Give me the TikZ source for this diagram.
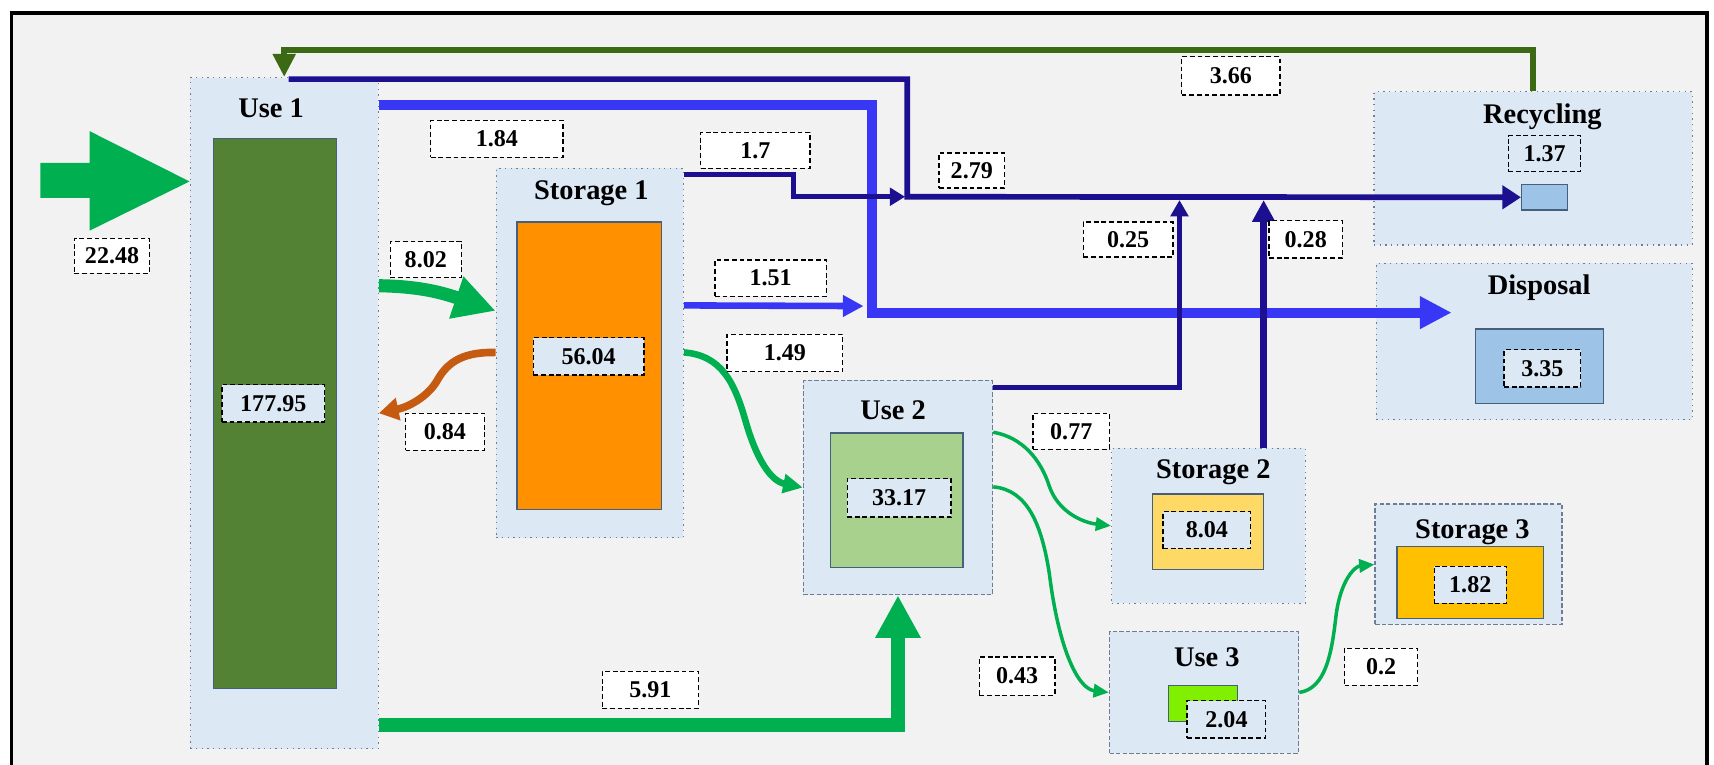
\documentclass[tikz,border=0pt]{standalone}
\usepackage{fontspec}
\setmainfont{Liberation Serif}
\usetikzlibrary{arrows.meta,fit}
\definecolor{bgc}{RGB}{242,242,242}
\definecolor{boxc}{RGB}{221,232,245}
\definecolor{bordc}{RGB}{110,125,150}
\definecolor{innerd}{RGB}{70,95,125}
\definecolor{gdark}{RGB}{84,130,53}
\definecolor{orng}{RGB}{255,145,0}
\definecolor{glight}{RGB}{169,209,142}
\definecolor{ylw}{RGB}{255,217,102}
\definecolor{ylwb}{RGB}{255,192,0}
\definecolor{limec}{RGB}{128,240,0}
\definecolor{lblue}{RGB}{157,195,230}
\definecolor{flowg}{RGB}{0,176,80}
\definecolor{navyc}{RGB}{28,16,145}
\definecolor{bluec}{RGB}{55,55,245}
\definecolor{brownc}{RGB}{197,90,17}
\definecolor{fbc}{RGB}{60,105,20}
\newcommand\labn[7][lab]{%
  \pgfmathsetmacro\lcx{(#3+#5)/2}\pgfmathsetmacro\lcy{(#4+#6)/2}%
  \pgfmathsetmacro\lww{(#5-#3)/2}\pgfmathsetmacro\lhh{(#6-#4)/2}%
  \node[#1, minimum width=\lww pt, minimum height=\lhh pt] (#2) at (\lcx,\lcy) {#7};}
\begin{document}
\begin{tikzpicture}[x=0.5pt,y=-0.5pt,
  box/.style={fill=boxc, draw=bordc, dotted, line width=0.6pt, inner sep=0pt},
  dbox/.style={fill=boxc, draw=bordc, dash pattern=on 2pt off 1pt, line width=0.6pt, inner sep=0pt},
  inr/.style={draw=innerd, line width=0.6pt, inner sep=0pt},
  lab/.style={draw=black, fill=white, dash pattern=on 2.2pt off 1.3pt, line width=0.6pt, inner sep=0pt, font=\bfseries\fontsize{11}{12}\selectfont},
  slab/.style={lab, fill=boxc},
  ttl/.style={font=\bfseries\fontsize{13}{15}\selectfont, inner sep=0pt},
  navyl/.style={draw=navyc, line width=2.6pt},
  bluel/.style={draw=bluec, line width=4.5pt},
  fbl/.style={draw=fbc, line width=2.5pt},
  greenl/.style={draw=flowg},
]
\useasboundingbox (0,0) rectangle (1568,699);
\fill[white] (0,0) rectangle (1568,699);
\fill[bgc] (10.5,12) rectangle (1562,720);
\draw[black, line width=1.8pt] (10.5,12) rectangle (1562,720);

% boxes
\node[box, fit={(174,71)(346,685)}] (use1) {};
\node[inr, fill=gdark, fit={(195,127)(308,630)}] (use1in) {};
\node[box, fit={(454,154)(625,492)}] (st1) {};
\node[inr, fill=orng, fit={(473,203)(605,466)}] (st1in) {};
\node[dbox, fit={(735,348)(908,544)}] (use2) {};
\node[inr, fill=glight, fit={(760,396)(881,519)}] (use2in) {};
\node[box, fit={(1017,410)(1194,552)}] (st2) {};
\node[inr, fill=ylw, fit={(1054,452)(1156,521)}] (st2in) {};
\node[dbox, fit={(1015,578)(1188,689)}] (use3) {};
\node[inr, fill=limec, fit={(1069,627)(1132,660)}] (use3in) {};
\node[dbox, fit={(1258,461)(1429,571)}] (st3) {};
\node[inr, fill=ylwb, fit={(1278,500)(1412,566)}] (st3in) {};
\node[box, fit={(1257,84)(1548,224)}] (rec) {};
\node[inr, fill=lblue, fit={(1392,169)(1434,192)}] (recin) {};
\node[box, fit={(1259,241)(1548,384)}] (disp) {};
\node[inr, fill=lblue, fit={(1350,301)(1467,369)}] (dispin) {};

% titles
\node[ttl] (tuse1) at (248,99) {Use 1};
\node[ttl] (tst1) at (541,177) {Storage 1};
\node[ttl] (tuse2) at (817,375) {Use 2};
\node[ttl] (tst2) at (1110,432) {Storage 2};
\node[ttl] (tuse3) at (1104,601) {Use 3};
\node[ttl] (tst3) at (1347,487) {Storage 3};
\node[ttl] (trec) at (1411,107) {Recycling};
\node[ttl] (tdisp) at (1408,263) {Disposal};

% helper coordinates
\coordinate (junc) at (830,180);
\coordinate (j25) at (1079,183);
\coordinate (j28) at (1156,183);
\coordinate (bjog) at (798,286);
\coordinate (dtip) at (1328,286);
\coordinate (t151) at (790,280);

% input arrow
\fill[flowg] (37,149) -- (82,149) -- (82,120) -- (use1.west |- 0,166) -- (82,211) -- (82,181) -- (37,181) -- cycle;

% blue flows
\draw[bluel, -{Triangle[length=14.5pt,width=14pt]}] ([yshift=-13pt]use1.north east) -| (bjog) -- (dtip);
\draw[bluel, line width=3pt, -{Triangle[length=9.5pt,width=9.5pt]}] ([yshift=-63pt]st1.north east) -- (t151);

% navy flows
\draw[navyl, -{Triangle[length=8.5pt,width=10.5pt]}] ([xshift=2pt,yshift=-1pt]use1.north) -| (junc) -- (recin.west);
\draw[navyl, line width=2.4pt, -{Triangle[length=7pt,width=8pt]}] ([yshift=-3pt]st1.north east) -- ++(100,0) |- ([xshift=-1pt]junc);
\draw[navyl, line width=2.6pt, -{Triangle[length=7.5pt,width=8pt]}] ([yshift=-3.5pt]use2.north east) -| (j25);
\draw[navyl, line width=3.4pt, -{Triangle[length=10pt,width=10pt]}] (st2.north -| j28) -- (j28);

% feedback
\draw[fbl, -{Triangle[length=10.5pt,width=10pt]}] (rec.north) -- ++(0,-37.5) -| (use1.north);

% green flows
\draw[greenl, line width=6.5pt, -{Triangle[length=19.5pt,width=19.5pt]}] ([yshift=11pt]use1.south east) -| (use2.south);
\draw[greenl, line width=6pt, -{Triangle[length=19pt,width=19pt]}] ([yshift=-95.5pt]use1.north east) .. controls (385,262) and (405,268) .. ([yshift=-65.5pt]st1.north west);
\draw[greenl, line width=3pt, -{Triangle[length=9pt,width=8.5pt]}] ([yshift=-84.5pt]st1.north east) .. controls (660,325) and (672,350) .. (682,385) .. controls (692,420) and (705,440) .. (use2.west);
\draw[greenl, line width=1.6pt, -{Triangle[length=7pt,width=6pt]}] ([yshift=-24pt]use2.north east) .. controls (935,400) and (952,420) .. (960,445) .. controls (968,468) and (990,478) .. (st2.west);
\draw[greenl, line width=1.6pt, -{Triangle[length=7pt,width=6pt]}] ([yshift=-49pt]use2.north east) .. controls (940,448) and (953,480) .. (960,525) .. controls (968,590) and (985,630) .. (use3.west);
\draw[greenl, line width=1.6pt, -{Triangle[length=7pt,width=6pt]}] (use3.east) .. controls (1212,630) and (1218,600) .. (1222,565) .. controls (1226,530) and (1240,518) .. ([yshift=-28pt]st3.north west);

% brown flow
\draw[brownc, line width=3.5pt, -{Triangle[length=9pt,width=10pt]}] ([yshift=-84.5pt]st1.north west) .. controls (425,322) and (410,330) .. (400,348) .. controls (392,362) and (375,372) .. (use1.east);

% labels
\labn{l2248}{68}{218}{137}{250}{22.48}
\labn[slab]{l17795}{203}{352}{297}{386}{177.95}
\labn{l184}{394}{110}{515}{144}{1.84}
\labn{l802}{357}{221}{422}{254}{8.02}
\labn{l084}{371}{378}{443}{412}{0.84}
\labn[slab]{l5604}{488}{309}{589}{343}{56.04}
\labn{l17}{641}{121}{741}{154}{1.7}
\labn{l279}{859}{140}{919}{172}{2.79}
\labn{l151}{654}{238}{756}{271}{1.51}
\labn{l149}{665}{306}{771}{340}{1.49}
\labn{l366}{1081}{52}{1171}{87}{3.66}
\labn{l025}{991}{203}{1073}{235}{0.25}
\labn{l028}{1161}{202}{1228}{236}{0.28}
\labn[slab]{l137}{1380}{124}{1446}{157}{1.37}
\labn[slab]{l335}{1376}{320}{1446}{354}{3.35}
\labn[slab]{l3317}{775}{438}{870}{473}{33.17}
\labn{l077}{945}{378}{1015}{411}{0.77}
\labn[slab]{l804}{1064}{468}{1144}{502}{8.04}
\labn{l043}{896}{601}{965}{636}{0.43}
\labn{l591}{551}{614}{639}{648}{5.91}
\labn[slab]{l204}{1086}{641}{1158}{675}{2.04}
\labn{l02}{1230}{593}{1297}{627}{0.2}
\labn[slab]{l182}{1312}{518}{1378}{552}{1.82}
\end{tikzpicture}
\end{document}
